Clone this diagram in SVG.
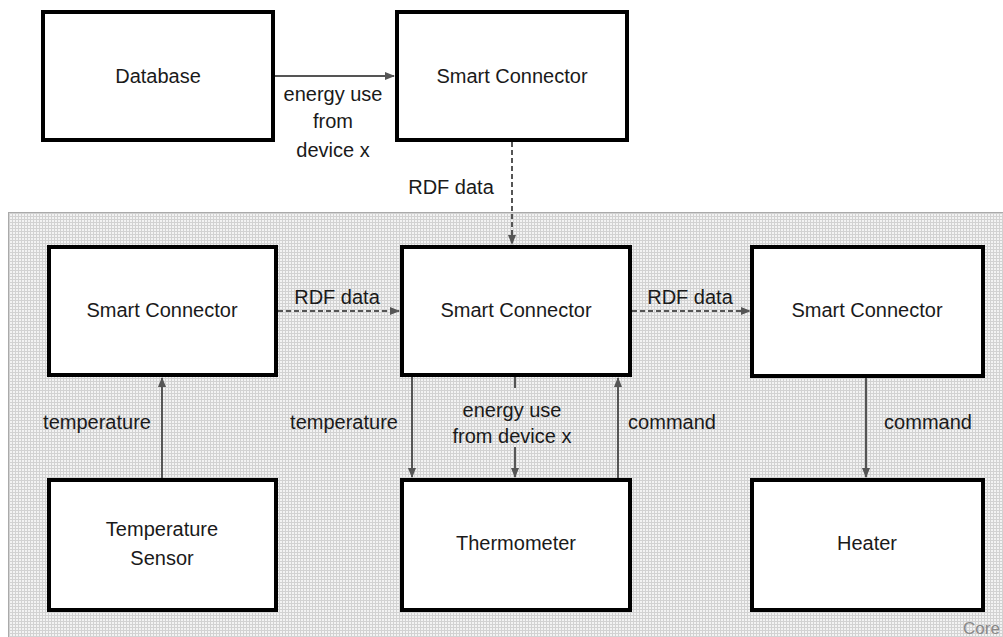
<svg xmlns="http://www.w3.org/2000/svg" width="1003" height="637" viewBox="0 0 1003 637">
<defs>
<pattern id="grid" width="3" height="3" patternUnits="userSpaceOnUse">
<rect width="3" height="3" fill="#f3f3f3"/>
<path d="M0 0.5H3M0.5 0V3" stroke="#d2d2d2" stroke-width="1"/>
</pattern>
<marker id="ah" markerWidth="10" markerHeight="10" refX="9" refY="5" orient="auto" markerUnits="userSpaceOnUse">
<path d="M0 1L10 5L0 9Z" fill="#555"/>
</marker>
<style>
.box{fill:#fff;stroke:#000;stroke-width:4}
.t{font-family:"Liberation Sans",Arial,sans-serif;font-size:20px;fill:#1a1a1a;text-anchor:middle}
.l{font-family:"Liberation Sans",Arial,sans-serif;font-size:20px;fill:#1a1a1a;text-anchor:middle}
.c{fill:none;stroke:#555;stroke-width:2}
.d{fill:none;stroke:#555;stroke-width:2;stroke-dasharray:5,3}
</style>
</defs>
<g id="core">
<rect x="8.5" y="212.5" width="1010" height="440" fill="url(#grid)" stroke="#aaa" stroke-width="1"/>
<text x="963" y="634" style="font-family:'Liberation Sans',Arial,sans-serif;font-size:17px;fill:#888">Core</text>
</g>
<g id="database"><rect class="box" x="43" y="12" width="230" height="128"/><text class="t" x="158" y="83">Database</text></g>
<g id="sc-top"><rect class="box" x="397" y="12" width="230" height="128"/><text class="t" x="512" y="83">Smart Connector</text></g>
<g id="sc-left"><rect class="box" x="49" y="247" width="227" height="128"/><text class="t" x="162" y="317">Smart Connector</text></g>
<g id="sc-mid"><rect class="box" x="402" y="247" width="228" height="128"/><text class="t" x="516" y="317">Smart Connector</text></g>
<g id="sc-right"><rect class="box" x="752" y="247" width="231" height="129"/><text class="t" x="867" y="317">Smart Connector</text></g>
<g id="temp-sensor"><rect class="box" x="49" y="480" width="227" height="130"/><text class="t" x="162" y="536">Temperature</text><text class="t" x="162" y="565">Sensor</text></g>
<g id="thermometer"><rect class="box" x="402" y="480" width="228" height="130"/><text class="t" x="516" y="550">Thermometer</text></g>
<g id="heater"><rect class="box" x="752" y="480" width="231" height="130"/><text class="t" x="867" y="550">Heater</text></g>
<g id="connectors">
<line class="c" x1="275" y1="76" x2="394" y2="76" marker-end="url(#ah)"/>
<line class="d" x1="512" y1="142" x2="512" y2="244" marker-end="url(#ah)"/>
<line class="d" x1="278" y1="311" x2="399" y2="311" marker-end="url(#ah)"/>
<line class="d" x1="632" y1="311" x2="750" y2="311" marker-end="url(#ah)"/>
<line class="c" x1="162" y1="478" x2="162" y2="378" marker-end="url(#ah)"/>
<line class="c" x1="412" y1="377" x2="412" y2="477" marker-end="url(#ah)"/>
<line class="c" x1="515" y1="377" x2="515" y2="388"/>
<line class="c" x1="515" y1="447" x2="515" y2="477" marker-end="url(#ah)"/>
<line class="c" x1="618" y1="478" x2="618" y2="378" marker-end="url(#ah)"/>
<line class="c" x1="866" y1="378" x2="866" y2="477" marker-end="url(#ah)"/>
<text class="l" x="333" y="101">energy use</text>
<text class="l" x="333" y="128">from</text>
<text class="l" x="333" y="157">device x</text>
<text class="l" x="451" y="194">RDF data</text>
<text class="l" x="337" y="304">RDF data</text>
<text class="l" x="690" y="304">RDF data</text>
<text class="l" x="97" y="429">temperature</text>
<text class="l" x="344" y="429">temperature</text>
<text class="l" x="512" y="417">energy use</text>
<text class="l" x="512" y="443">from device x</text>
<text class="l" x="672" y="429">command</text>
<text class="l" x="928" y="429">command</text>
</g>
</svg>
